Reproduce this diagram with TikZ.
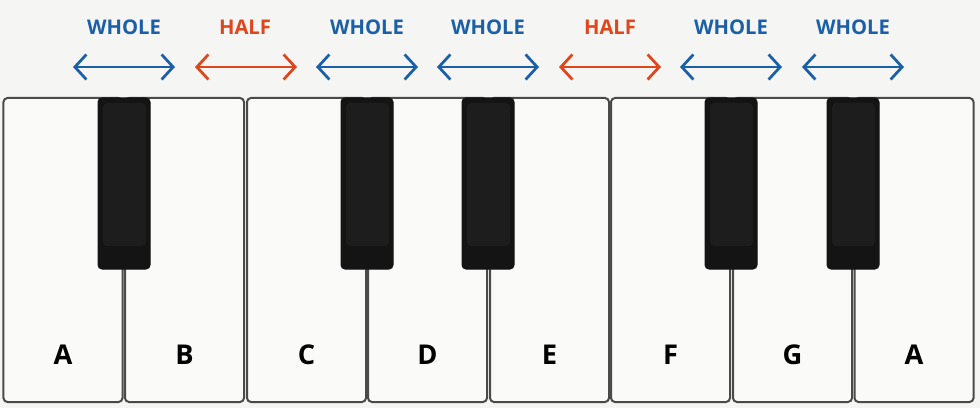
\documentclass[tikz,border=0pt]{standalone}
\usepackage{fontspec}
\setmainfont{Open Sans}
\usetikzlibrary{positioning, arrows.meta}

\definecolor{bgpaper}{HTML}{F5F5F3}
\definecolor{keyivory}{HTML}{FAFAF8}
\definecolor{keyedge}{HTML}{4A4A4A}
\definecolor{keyblack}{HTML}{141414}
\definecolor{keypanel}{HTML}{1D1D1D}
\definecolor{wholeblue}{HTML}{1A5FA8}
\definecolor{halfred}{HTML}{E0461C}

\begin{document}
\begin{tikzpicture}[
    x=0.2mm, y=-0.2mm,
    whitekey/.style = {
        rectangle, rounded corners=0.8mm, minimum width=23.8mm, minimum height=60.8mm,
        fill=keyivory, draw=keyedge, line width=0.4mm, inner sep=0pt
    },
    blackkey/.style = {
        rectangle, rounded corners=0.8mm, minimum width=10.4mm, minimum height=34.2mm,
        fill=keyblack, draw=keyblack, line width=0.2mm, inner sep=0pt,
        path picture={\fill[keypanel]
            ([shift={(1mm,-1mm)}]path picture bounding box.north west) rectangle
            ([shift={(-0.8mm,4.6mm)}]path picture bounding box.south east);}
    },
    note/.style = {font=\fontsize{15.5}{18}\selectfont\bfseries, text=black},
    steplabel/.style = {font=\fontsize{11.5}{14}\selectfont\bfseries},
    steparrow/.style = {
        {Straight Barb[length=2.3mm, width=5mm]}-{Straight Barb[length=2.3mm, width=5mm]},
        line width=0.55mm
    },
    whole/.style = {wholeblue},
    half/.style = {halfred}
]

% ── Page ──
\fill[bgpaper] (0,0) rectangle (980,408);
\useasboundingbox (0,0) rectangle (980,408);

% ── White keys ──
\node[whitekey] (kA)  at (63,250)    {};
\node[whitekey] (kB)  at (184.5,250) {};
\node[whitekey] (kC)  at (306.5,250) {};
\node[whitekey] (kD)  at (427.5,250) {};
\node[whitekey] (kE)  at (549.5,250) {};
\node[whitekey] (kF)  at (670.5,250) {};
\node[whitekey] (kG)  at (792.5,250) {};
\node[whitekey] (kA2) at (914,250)   {};

% ── Note names ──
\node[note] (nA)  at (63,355)    {A};
\node[note] (nB)  at (184.5,355) {B};
\node[note] (nC)  at (306.5,355) {C};
\node[note] (nD)  at (427.5,355) {D};
\node[note] (nE)  at (549.5,355) {E};
\node[note] (nF)  at (670.5,355) {F};
\node[note] (nG)  at (792.5,355) {G};
\node[note] (nA2) at (914,355)   {A};

% ── Black keys ──
\node[blackkey] (bAs) at (124,183.5) {};
\node[blackkey] (bCs) at (367,183.5) {};
\node[blackkey] (bDs) at (488,183.5) {};
\node[blackkey] (bFs) at (731,183.5) {};
\node[blackkey] (bGs) at (853,183.5) {};

% ── Step labels ──
\node[steplabel, text=wholeblue] (s1) at (124,27) {WHOLE};
\node[steplabel, text=halfred]   (s2) at (245,27) {HALF};
\node[steplabel, text=wholeblue] (s3) at (367,27) {WHOLE};
\node[steplabel, text=wholeblue] (s4) at (488,27) {WHOLE};
\node[steplabel, text=halfred]   (s5) at (610,27) {HALF};
\node[steplabel, text=wholeblue] (s6) at (731,27) {WHOLE};
\node[steplabel, text=wholeblue] (s7) at (853,27) {WHOLE};

% ── Step arrows ──
\coordinate (a1l) at (73,67);  \coordinate (a1r) at (175,67);
\coordinate (a2l) at (195,67); \coordinate (a2r) at (297,67);
\coordinate (a3l) at (316,67); \coordinate (a3r) at (418,67);
\coordinate (a4l) at (437,67); \coordinate (a4r) at (539,67);
\coordinate (a5l) at (559,67); \coordinate (a5r) at (661,67);
\coordinate (a6l) at (680,67); \coordinate (a6r) at (782,67);
\coordinate (a7l) at (802,67); \coordinate (a7r) at (904,67);

\draw[steparrow, whole] (a1l) -- (a1r);
\draw[steparrow, half]  (a2l) -- (a2r);
\draw[steparrow, whole] (a3l) -- (a3r);
\draw[steparrow, whole] (a4l) -- (a4r);
\draw[steparrow, half]  (a5l) -- (a5r);
\draw[steparrow, whole] (a6l) -- (a6r);
\draw[steparrow, whole] (a7l) -- (a7r);

\end{tikzpicture}
\end{document}
